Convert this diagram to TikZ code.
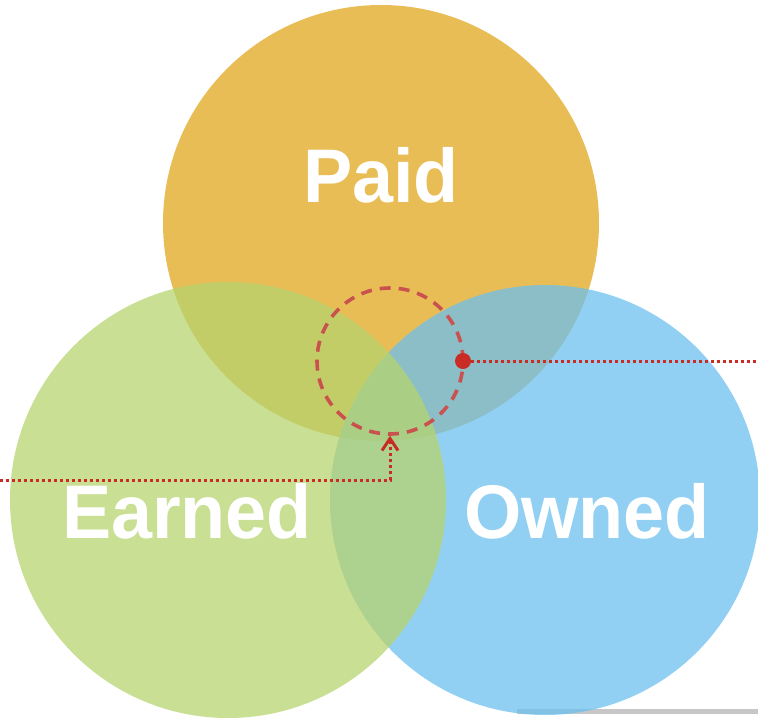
\documentclass[tikz,border=0pt]{standalone}
\usepackage{fontspec}
\setmainfont{Liberation Sans}
\usetikzlibrary{arrows.meta}
\definecolor{paidc}{RGB}{224,167,29}
\definecolor{earnc}{RGB}{183,212,111}
\definecolor{ownc}{RGB}{109,192,239}
\definecolor{ringc}{RGB}{201,82,79}
\definecolor{linec}{RGB}{200,44,36}
\begin{document}
\begin{tikzpicture}[
        x=1pt, y=-1pt,
        cir/.style={circle, draw=none, inner sep=0pt, outer sep=0pt, fill opacity=0.75},
        lbl/.style={anchor=base, text=white, inner sep=0pt, xscale=0.97, font=\bfseries\fontsize{76}{76}\selectfont},
        ring/.style={circle, draw=ringc, line width=3.6pt, dash pattern=on 11pt off 8pt, inner sep=0pt, minimum size=146pt},
        nd/.style={circle, fill=linec, inner sep=0pt, minimum size=16pt},
        ed/.style={linec, line width=3pt, dash pattern=on 3pt off 3pt}
      ]
      \useasboundingbox (0,0) rectangle (758,718);
      \fill[black!22] (517,709) rectangle (758,714);
      \node[cir, fill=paidc, minimum size=436pt] (paid) at (381,223) {};
      \node[cir, fill=ownc, minimum size=430pt] (owned) at (545,500) {};
      \node[cir, fill=earnc, minimum size=436pt] (earned) at (228,500) {};
      \node[lbl] (tpaid) at (381,202) {Paid};
      \node[lbl] (tearned) at (187,538) {Earned};
      \node[lbl] (towned) at (587,538) {Owned};
      \node[ring] (mid) at (390,361) {};
      \node[nd] (hub) at (463,361) {};
      \coordinate (hubout) at (758,361);
      \coordinate (lin) at (0,480);
      \draw[ed] (hub) -- (hubout);
      \draw[ed, -{Straight Barb[length=12pt, width=16pt, line width=3pt]}] (lin) -| (mid.south);
    \end{tikzpicture}
\end{document}
